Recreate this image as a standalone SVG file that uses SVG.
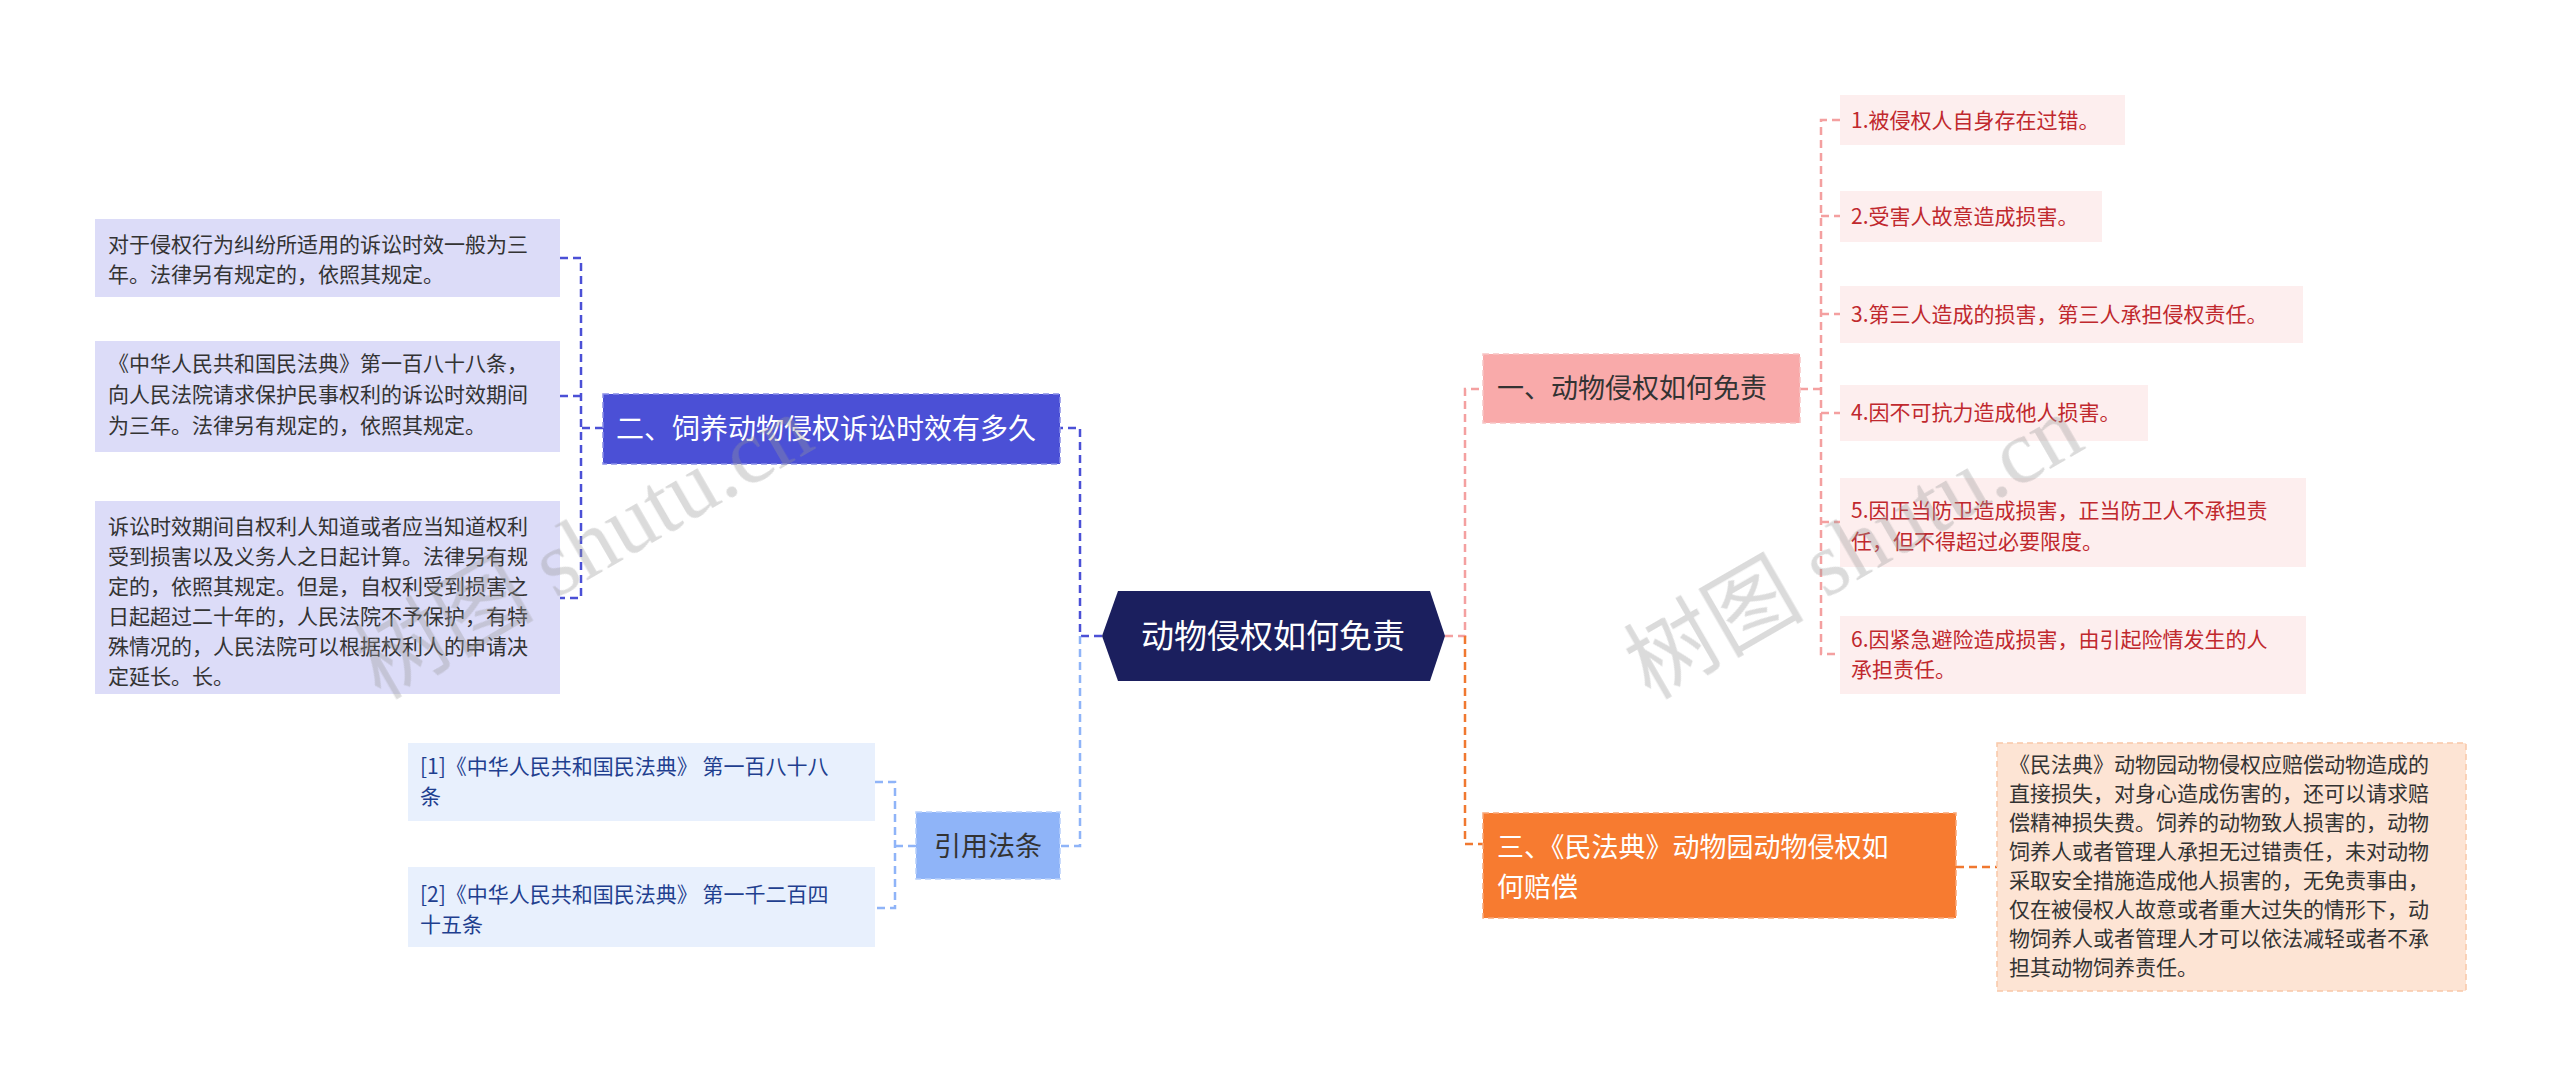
<svg xmlns="http://www.w3.org/2000/svg" width="2560" height="1088" viewBox="0 0 2560 1088">
<style>
text{font-family:"Noto Sans CJK SC","Liberation Sans",sans-serif;}
.t22{font-size:21px;fill:#333}
.red{font-size:21px;fill:#c0282d}
.ref{font-size:21px;fill:#1f3f8f}
.b{stroke-dasharray:6 4;stroke-width:1.5}
.c{fill:none;stroke-width:2.5;stroke-dasharray:8 5}
</style>
<rect width="2560" height="1088" fill="#fff"/>
<g id="connectors">
<path class="c" stroke="#4b50d6" d="M1102 636H1080V428H1060"/>
<path class="c" stroke="#8fb4f8" d="M1080 636V846H1060"/>
<path class="c" stroke="#4b50d6" stroke-width="2" d="M603 428H581M560 258H581V598H560M581 396H560"/>
<path class="c" stroke="#8fb4f8" stroke-width="2" d="M916 846H895M875 782H895V908H875"/>
<path class="c" stroke="#f4a0a0" d="M1445 636H1465V389H1483"/>
<path class="c" stroke="#f07830" d="M1465 636V844H1483"/>
<path class="c" stroke="#f4a0a0" stroke-width="2" d="M1800 389H1821M1840 120H1821V654H1840M1821 216H1840M1821 314H1840M1821 413H1840M1821 522H1840"/>
<path class="c" stroke="#f07830" stroke-width="2" d="M1956 867H1997"/>
</g>
<g id="center"><polygon points="1102,636 1118,591 1430,591 1445,636 1430,681 1118,681" fill="#1b1f5e"/><text x="1273" y="648" font-size="33" fill="#fff" text-anchor="middle">动物侵权如何免责</text></g>
<g id="n2"><rect x="603" y="394" width="457" height="70" fill="#4b50d6" stroke="#8a8ee8" class="b"/><text x="616" y="439" font-size="28" fill="#fff">二、饲养动物侵权诉讼时效有多久</text></g>
<g id="l1"><rect x="95" y="219" width="465" height="78" fill="#dcdcf8"/><text class="t22"><tspan x="108" y="252">对于侵权行为纠纷所适用的诉讼时效一般为三</tspan><tspan x="108" y="282">年。法律另有规定的，依照其规定。</tspan></text></g>
<g id="l2"><rect x="95" y="341" width="465" height="111" fill="#dcdcf8"/><text class="t22"><tspan x="108" y="371">《中华人民共和国民法典》第一百八十八条，</tspan><tspan x="108" y="402">向人民法院请求保护民事权利的诉讼时效期间</tspan><tspan x="108" y="433">为三年。法律另有规定的，依照其规定。</tspan></text></g>
<g id="l3"><rect x="95" y="501" width="465" height="193" fill="#dcdcf8"/><text class="t22"><tspan x="108" y="534">诉讼时效期间自权利人知道或者应当知道权利</tspan><tspan x="108" y="564">受到损害以及义务人之日起计算。法律另有规</tspan><tspan x="108" y="594">定的，依照其规定。但是，自权利受到损害之</tspan><tspan x="108" y="624">日起超过二十年的，人民法院不予保护，有特</tspan><tspan x="108" y="654">殊情况的，人民法院可以根据权利人的申请决</tspan><tspan x="108" y="684">定延长。长。</tspan></text></g>
<g id="yf"><rect x="916" y="812" width="144" height="67" fill="#8fb4f8" stroke="#b8d0fb" class="b"/><text x="988" y="856" font-size="27" fill="#333" text-anchor="middle">引用法条</text></g>
<g id="r1"><rect x="408" y="743" width="467" height="78" fill="#e8f0fd"/><text class="ref"><tspan x="420" y="774">[1]《中华人民共和国民法典》 第一百八十八</tspan><tspan x="420" y="804">条</tspan></text></g>
<g id="r2"><rect x="408" y="867" width="467" height="80" fill="#e8f0fd"/><text class="ref"><tspan x="420" y="902">[2]《中华人民共和国民法典》 第一千二百四</tspan><tspan x="420" y="932">十五条</tspan></text></g>
<g id="n1"><rect x="1483" y="354" width="317" height="69" fill="#f9aaaa" stroke="#f7c5c5" class="b"/><text x="1497" y="398" font-size="27" fill="#333">一、动物侵权如何免责</text></g>
<g id="i1"><rect x="1840" y="95" width="285" height="50" fill="#fdeeee"/><text class="red" x="1851" y="128">1.被侵权人自身存在过错。</text></g>
<g id="i2"><rect x="1840" y="191" width="262" height="51" fill="#fdeeee"/><text class="red" x="1851" y="224">2.受害人故意造成损害。</text></g>
<g id="i3"><rect x="1840" y="286" width="463" height="57" fill="#fdeeee"/><text class="red" x="1851" y="322">3.第三人造成的损害，第三人承担侵权责任。</text></g>
<g id="i4"><rect x="1840" y="385" width="308" height="56" fill="#fdeeee"/><text class="red" x="1851" y="420">4.因不可抗力造成他人损害。</text></g>
<g id="i5"><rect x="1840" y="478" width="466" height="89" fill="#fdeeee"/><text class="red"><tspan x="1851" y="518">5.因正当防卫造成损害，正当防卫人不承担责</tspan><tspan x="1851" y="549">任，但不得超过必要限度。</tspan></text></g>
<g id="i6"><rect x="1840" y="616" width="466" height="78" fill="#fdeeee"/><text class="red"><tspan x="1851" y="647">6.因紧急避险造成损害，由引起险情发生的人</tspan><tspan x="1851" y="677">承担责任。</tspan></text></g>
<g id="n3"><rect x="1483" y="813" width="473" height="105" fill="#f77b30" stroke="#f9a878" class="b"/><text font-size="27" fill="#fff"><tspan x="1497" y="857">三、《民法典》动物园动物侵权如</tspan><tspan x="1497" y="897">何赔偿</tspan></text></g>
<g id="d3"><rect x="1997" y="743" width="469" height="248" fill="#fde4d4" stroke="#f9c8a8" class="b"/><text class="t22" font-size="20"><tspan x="2009" y="772">《民法典》动物园动物侵权应赔偿动物造成的</tspan><tspan x="2009" y="801">直接损失，对身心造成伤害的，还可以请求赔</tspan><tspan x="2009" y="830">偿精神损失费。饲养的动物致人损害的，动物</tspan><tspan x="2009" y="859">饲养人或者管理人承担无过错责任，未对动物</tspan><tspan x="2009" y="888">采取安全措施造成他人损害的，无免责事由，</tspan><tspan x="2009" y="917">仅在被侵权人故意或者重大过失的情形下，动</tspan><tspan x="2009" y="946">物饲养人或者管理人才可以依法减轻或者不承</tspan><tspan x="2009" y="975">担其动物饲养责任。</tspan></text></g>
<g id="watermarks" fill="#999" opacity="0.35" font-size="90"><text x="380" y="700" transform="rotate(-30 380 700)" style="font-family:'Liberation Serif','Noto Sans CJK SC',serif">树图 shutu.cn</text><text x="1650" y="700" transform="rotate(-30 1650 700)" style="font-family:'Liberation Serif','Noto Sans CJK SC',serif">树图 shutu.cn</text></g>
</svg>
